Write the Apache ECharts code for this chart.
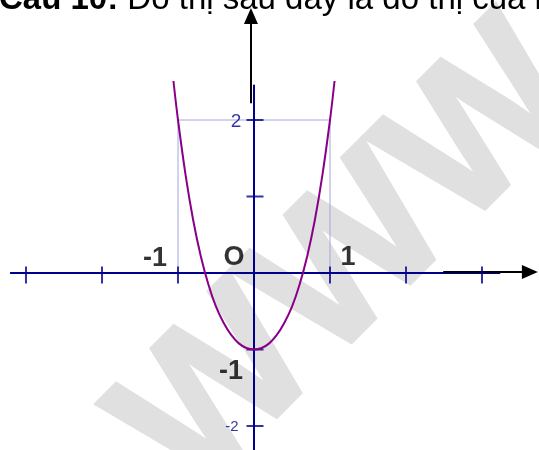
<!DOCTYPE html>
<html><head><meta charset="utf-8">
<script src="https://cdn.jsdelivr.net/npm/echarts@6/dist/echarts.min.js"></script>
<style>html,body{margin:0;padding:0;background:#fff;overflow:hidden}#c{width:539px;height:450px}</style>
</head><body><div id="c"></div>
<script>
// ---- data ----
const curveX = [-1.06, -1.0, -0.9, -0.8, -0.7, -0.6, -0.5, -0.4, -0.3, -0.2, -0.1, 0, 0.1, 0.2, 0.3, 0.4, 0.5, 0.6, 0.7, 0.8, 0.9, 1.0, 1.06];
const curveY = [2.51, 2.0, 1.28, 0.69, 0.22, -0.15, -0.44, -0.65, -0.81, -0.92, -0.98, -1.0, -0.98, -0.92, -0.81, -0.65, -0.44, -0.15, 0.22, 0.69, 1.28, 2.0, 2.51];
const guideX = [-1, -1, 1, 1];
const guideY = [0, 2, 2, 0];
const xTicks = [-3, -2, -1, 0, 1, 2, 3];
const yTicks = [-2, -1, 0, 1, 2];
const xAxisExtent = [-3.21, 3.24];
const yAxisExtent = [-2.40, 2.46];
const xArrowExtent = [2.49, 3.63];
const yArrowExtent = [2.22, 3.36];
const titleBold = 'Câu 10:';
const titleRest = ' Đồ thị sau đây là đồ thị của hàm số nào?';
const xLabels = ['-1', 'O', '1'];
const xLabelAt = [-1, 0, 1];
const yLabels = ['2', '-1', '-2'];
const yLabelAt = [2, -1, -2];
const watermark = 'WWW';

// ---- chart ----
const NAVY = '#00008c';
const FONT = '"Liberation Sans", Arial, sans-serif';
const chart = echarts.init(document.getElementById('c'), null, {renderer: 'canvas'});

const xLabelStyle = [
  {offset: [-23, -14], fontSize: 27, fontWeight: 'bold', color: '#000'},
  {offset: [-20, -15], fontSize: 27, fontWeight: 'bold', color: '#000'},
  {offset: [18, -15], fontSize: 27, fontWeight: 'bold', color: '#000'}
];
const yLabelStyle = [
  {offset: [-18, 2], fontSize: 19, fontWeight: 'normal', color: NAVY},
  {offset: [-23, 22], fontSize: 27, fontWeight: 'bold', color: '#000'},
  {offset: [-22, 1], fontSize: 15, fontWeight: 'normal', color: NAVY}
];

const labelData = [];
xLabels.forEach((t, i) => labelData.push({value: [xLabelAt[i], 0], label: Object.assign({formatter: t}, xLabelStyle[i])}));
yLabels.forEach((t, i) => labelData.push({value: [0, yLabelAt[i]], label: Object.assign({formatter: t}, yLabelStyle[i])}));

const option = {
  animation: false,
  backgroundColor: '#fff',
  grid: {left: 0, right: 0, top: 0, bottom: 0},
  xAxis: {type: 'value', min: -254 / 76, max: 285 / 76, show: false},
  yAxis: {type: 'value', min: -177 / 76.5, max: 273 / 76.5, show: false},
  graphic: [
    {
      type: 'text', x: 354, y: 262, rotation: Math.PI / 4, z: 0, silent: true,
      style: {text: watermark, align: 'center', verticalAlign: 'middle', fill: '#e0e0e0',
        stroke: '#e0e0e0', lineWidth: 3, font: 'bold 200px ' + FONT}
    },
    {
      type: 'text', x: -1, y: 0, z: 100, silent: true,
      style: {
        text: '{b|' + titleBold + '}{n|' + titleRest + '}',
        verticalAlign: 'middle', align: 'left',
        rich: {
          b: {fontFamily: FONT, fontSize: 33, fontWeight: 'bold', fill: '#000', color: '#000'},
          n: {fontFamily: FONT, fontSize: 33, fontWeight: 'normal', fill: '#000', color: '#000'}
        }
      }
    }
  ],
  series: [
    {
      type: 'line', name: 'guide', z: 3, symbol: 'none',
      data: guideX.map((x, i) => [x, guideY[i]]),
      lineStyle: {color: '#a3a8dc', width: 1}
    },
    {
      type: 'line', name: 'xaxis', z: 4, symbol: 'none',
      data: xAxisExtent.map(x => [x, 0]),
      lineStyle: {color: NAVY, width: 2}
    },
    {
      type: 'line', name: 'yaxis', z: 4, symbol: 'none',
      data: yAxisExtent.map(y => [0, y]),
      lineStyle: {color: NAVY, width: 2}
    },
    {
      type: 'scatter', name: 'xticks', z: 5, symbol: 'rect', symbolSize: [2, 17], symbolOffset: [0, 2],
      data: xTicks.map(x => [x, 0]), itemStyle: {color: NAVY}
    },
    {
      type: 'scatter', name: 'yticks', z: 5, symbol: 'rect', symbolSize: [17, 2], symbolOffset: [1, 0],
      data: yTicks.map(y => [0, y]), itemStyle: {color: NAVY}
    },
    {
      type: 'line', name: 'curve', z: 6, symbol: 'none', smooth: 0.35,
      data: curveX.map((x, i) => [x, curveY[i]]),
      lineStyle: {color: '#880088', width: 2}
    },
    {
      type: 'line', name: 'arrows', z: 7, symbol: 'none', data: [],
      markLine: {
        silent: true, animation: false,
        symbol: ['none', 'triangle'], symbolSize: [14, 16],
        label: {show: false},
        lineStyle: {color: '#000', width: 2, type: 'solid'},
        data: [
          [{coord: [xArrowExtent[0], 0.013]}, {coord: [xArrowExtent[1], 0.013]}],
          [{coord: [-0.04, yArrowExtent[0]]}, {coord: [-0.04, yArrowExtent[1]]}]
        ]
      }
    },
    {
      type: 'scatter', name: 'labels', z: 8, symbolSize: 0,
      label: {show: true, position: 'inside', fontFamily: FONT, textBorderWidth: 0},
      data: labelData
    }
  ]
};
chart.setOption(option);
</script>
</body></html>
